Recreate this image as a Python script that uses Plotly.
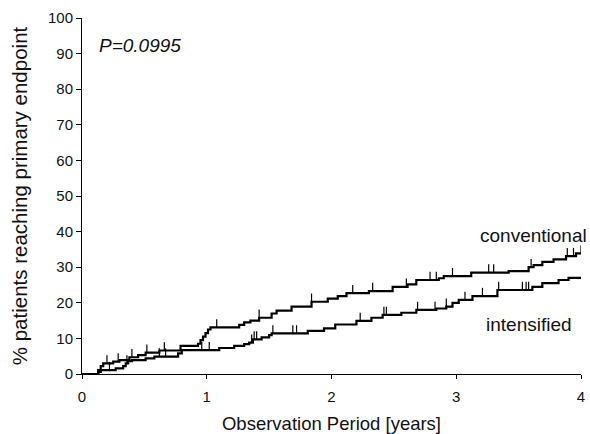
import plotly.graph_objects as go
import numpy as np

# Kaplan-Meier style step data (time in years, cumulative % reaching endpoint)
conv_t = [0, 0.13, 0.15, 0.17, 0.25, 0.30, 0.38, 0.45, 0.51, 0.62, 0.79, 0.93, 0.95, 0.97,
          0.99, 1.01, 1.03, 1.26, 1.30, 1.35, 1.42, 1.52, 1.56, 1.68, 1.84, 1.97, 2.05,
          2.12, 2.30, 2.49, 2.61, 2.68, 2.86, 2.90, 3.12, 3.42, 3.58, 3.62, 3.69, 3.78,
          3.88, 3.96]
conv_v = [0, 1.1, 2.2, 3.0, 3.5, 3.9, 4.7, 5.3, 6.0, 6.6, 7.9, 8.5, 9.5, 10.5,
          11.5, 12.5, 13.1, 13.8, 14.5, 15.0, 15.8, 17.0, 17.8, 18.9, 20.3, 21.2, 21.9,
          22.7, 23.3, 24.5, 25.2, 26.4, 26.9, 27.5, 28.5, 28.9, 30.0, 30.6, 31.5, 32.2,
          33.1, 33.9]
conv_cens = [0.20, 0.29, 0.40, 0.52, 0.66, 1.08, 1.42, 1.84, 2.17, 2.33, 2.60, 2.79,
             2.84, 2.97, 3.26, 3.30, 3.60, 3.89, 3.94, 4.00]

int_t = [0, 0.13, 0.15, 0.27, 0.33, 0.35, 0.37, 0.40, 0.51, 0.58, 0.77, 0.80, 1.10,
         1.22, 1.30, 1.34, 1.37, 1.44, 1.50, 1.52, 1.81, 1.94, 2.03, 2.20, 2.32, 2.41,
         2.56, 2.68, 2.84, 2.92, 2.97, 3.02, 3.13, 3.33, 3.61, 3.69, 3.82, 3.90]
int_v = [0, 0.6, 1.1, 1.6, 2.2, 3.0, 3.6, 3.9, 4.4, 4.9, 5.8, 6.7, 7.3,
         7.9, 8.4, 8.8, 9.7, 10.3, 10.9, 11.4, 12.1, 12.8, 13.9, 14.9, 15.8, 16.6,
         17.2, 18.0, 18.4, 18.9, 20.0, 20.8, 21.9, 23.6, 24.5, 25.5, 26.4, 27.0]
int_cens = [0.22, 0.36, 0.62, 0.67, 0.96, 1.02, 1.36, 1.38, 1.40, 1.53, 1.69, 1.72,
            2.23, 2.42, 2.44, 2.69, 2.83, 2.92, 3.07, 3.21, 3.34, 3.53, 3.56, 3.58]

end_time = 4.0
x_ticks = [0, 1, 2, 3, 4]
y_ticks = [0, 10, 20, 30, 40, 50, 60, 70, 80, 90, 100]

FONT = "Arial, Liberation Sans, sans-serif"
TICK_H = 2.3
TEXT_COLOR = "#111111"


def step_value(ts, vs, t):
    idx = np.searchsorted(ts, t, side="right") - 1
    return vs[max(idx, 0)]


def censor_segments(ts, vs, cens):
    xs, ys = [], []
    for c in cens:
        v = step_value(ts, vs, c)
        xs += [c, c, None]
        ys += [v, v + TICK_H, None]
    return xs, ys


fig = go.Figure()
for ts, vs, cens, name in [(conv_t, conv_v, conv_cens, "conventional"),
                           (int_t, int_v, int_cens, "intensified")]:
    fig.add_trace(go.Scatter(x=ts + [end_time], y=vs + [vs[-1]], mode="lines",
                             line=dict(shape="hv", color="black", width=2.2),
                             name=name, showlegend=False, hoverinfo="skip"))
    cx, cy = censor_segments(ts, vs, cens)
    fig.add_trace(go.Scatter(x=cx, y=cy, mode="lines",
                             line=dict(color="black", width=1.2),
                             showlegend=False, hoverinfo="skip"))

fig.add_annotation(x=0.12, y=92.4, text="<i>P=0.0995</i>", showarrow=False,
                   xanchor="left", yanchor="middle", font=dict(size=19, color=TEXT_COLOR, family=FONT))
fig.add_annotation(x=3.62, y=38.8, text="conventional", showarrow=False,
                   xanchor="center", yanchor="middle", font=dict(size=19, color=TEXT_COLOR, family=FONT))
fig.add_annotation(x=3.58, y=13.8, text="intensified", showarrow=False,
                   xanchor="center", yanchor="middle", font=dict(size=19, color=TEXT_COLOR, family=FONT))

fig.update_layout(
    width=590, height=434,
    margin=dict(l=82, r=9, t=18, b=60, autoexpand=False),
    plot_bgcolor="white", paper_bgcolor="white",
    font=dict(family=FONT, color=TEXT_COLOR),
)
fig.update_xaxes(range=[0, 4], tickvals=x_ticks, ticks="outside", ticklen=4,
                 tickcolor="black", showline=True, linecolor="black", linewidth=1,
                 showgrid=False, zeroline=False, tickfont=dict(size=15),
                 ticklabelstandoff=5, automargin=False,
                 title=dict(text="Observation Period [years]", font=dict(size=18.5), standoff=20))
fig.update_yaxes(range=[0, 100], tickvals=y_ticks, ticks="outside", ticklen=5,
                 tickcolor="black", showline=True, linecolor="black", linewidth=1,
                 showgrid=False, zeroline=False, tickfont=dict(size=15), automargin=False,
                 title=dict(text="% patients reaching primary endpoint", font=dict(size=20.5), standoff=14))

fig.write_html("out.html")
